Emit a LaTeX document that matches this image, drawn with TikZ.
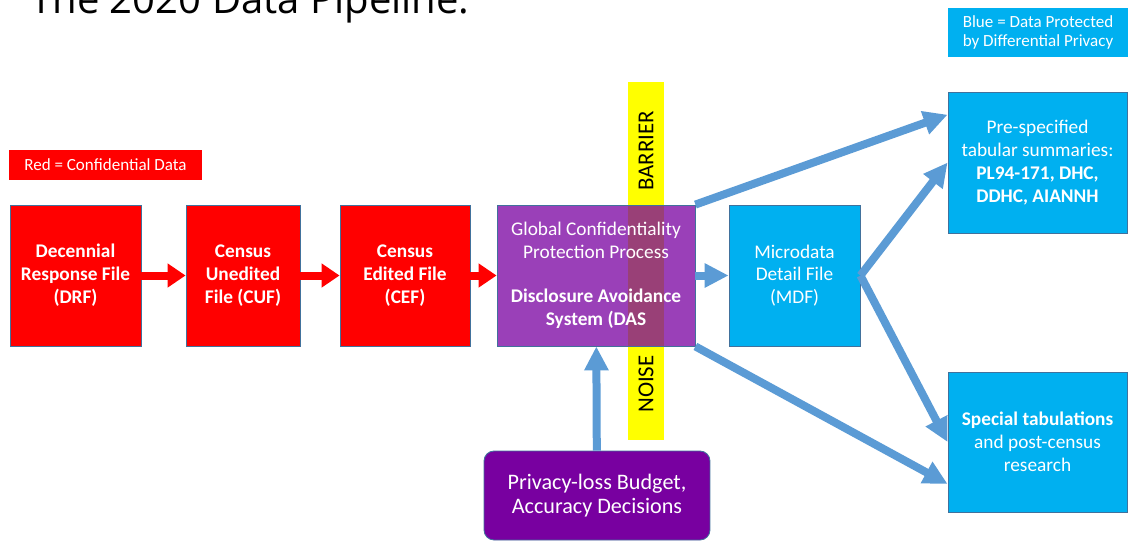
\documentclass[tikz,border=0pt]{standalone}
\usepackage{fontspec}
\setmainfont{Carlito}
\newfontfamily\titlefont{Open Sans}
\usetikzlibrary{arrows.meta}
\definecolor{confred}{RGB}{255,0,0}
\definecolor{dpblue}{RGB}{0,176,240}
\definecolor{flowblue}{RGB}{91,155,213}
\definecolor{edgeblue}{RGB}{65,113,156}
\definecolor{dasviolet}{RGB}{120,0,160}
\definecolor{baryellow}{RGB}{255,255,0}

\begin{document}
\begin{tikzpicture}[x=0.02cm,y=-0.02cm,
filebox/.style={rectangle,draw=edgeblue,line width=.5pt,text=white,align=center,inner sep=0pt,
  minimum height=2.82cm,font=\fontsize{11}{13}\selectfont},
redfile/.style={filebox,fill=confred,font=\fontsize{11}{13}\selectfont\bfseries},
bluefile/.style={filebox,fill=dpblue},
keybox/.style={rectangle,text=white,align=center,inner sep=0pt,font=\fontsize{9.7}{11.3}\selectfont},
redarrow/.style={draw=confred,line width=.16cm,-{Triangle[length=.36cm,width=.46cm]}},
bluearrow/.style={draw=flowblue,line width=.16cm,-{Triangle[length=.48cm,width=.46cm]}}]
\useasboundingbox (0,0) rectangle (1131,542);
\clip (0,0) rectangle (1131,542);
\node[anchor=base west,inner sep=0pt,font=\titlefont\fontsize{22.8}{26}\selectfont](title) at (30,13){The 2020 Data Pipeline:};
% legends
\node[keybox,fill=dpblue,minimum width=3.6cm,minimum height=.98cm](bluekey) at (1038,32.5)
{Blue = Data Protected\\by Differential Privacy};
\node[keybox,fill=confred,minimum width=3.86cm,minimum height=.6cm](redkey) at (105.5,165)
{Red = Confidential Data};
% the barrier
\node[fill=baryellow,inner sep=0pt,minimum width=.72cm,minimum height=7.16cm](bar) at (646,261){};
\node[rotate=90,font=\fontsize{13}{15}\selectfont](barrier) at (646,151){BARRIER};
\node[rotate=90,font=\fontsize{13}{15}\selectfont](noise) at (646,384){NOISE};
% confidential files
\node[redfile,minimum width=2.62cm](drf) at (75.5,275.5){Decennial\\Response File\\(DRF)};
\node[redfile,minimum width=2.28cm](cuf) at (243,275.5){Census\\Unedited\\File (CUF)};
\node[redfile,minimum width=2.6cm](cef) at (405,275.5){Census\\Edited File\\(CEF)};
\node[filebox,fill=dasviolet,fill opacity=.75,text opacity=1,minimum width=3.96cm](das) at (596,275.5)
{Global Confidentiality\\Protection Process\\[12pt]
\textbf{Disclosure Avoidance}\\\textbf{System (DAS}};
% protected products
\node[bluefile,minimum width=2.62cm](mdf) at (794.5,275.5){Microdata\\Detail File\\(MDF)};
\node[bluefile,minimum width=3.58cm](pre) at (1037.5,162.5)
{Pre-specified\\tabular summaries:\\\textbf{PL94-171, DHC,}\\\textbf{DDHC, AIANNH}};
\node[bluefile,minimum width=3.58cm,minimum height=2.8cm](spec) at (1037.5,442)
{\textbf{Special tabulations}\\and post-census\\research};
\node[filebox,fill=dasviolet,rounded corners=.2cm,minimum width=4.52cm,minimum height=1.78cm,
  font=\fontsize{12.6}{13.8}\selectfont](budget) at (597,495.5)
{Privacy-loss Budget,\\Accuracy Decisions};
\begin{scope}[redarrow]
\draw (drf)--(cuf);
\draw (cuf)--(cef);
\draw (cef)--(das);
\end{scope}
\begin{scope}[bluearrow]
\draw (das)--(mdf);
\draw (das.north east)--(pre.152.5);
\draw (das.south east)--(spec.205.7);
\draw (mdf.east)--(pre.west);
\draw (mdf.east)--(spec.west);
\draw (budget)--(das);
\end{scope}
\end{tikzpicture}
\end{document}
